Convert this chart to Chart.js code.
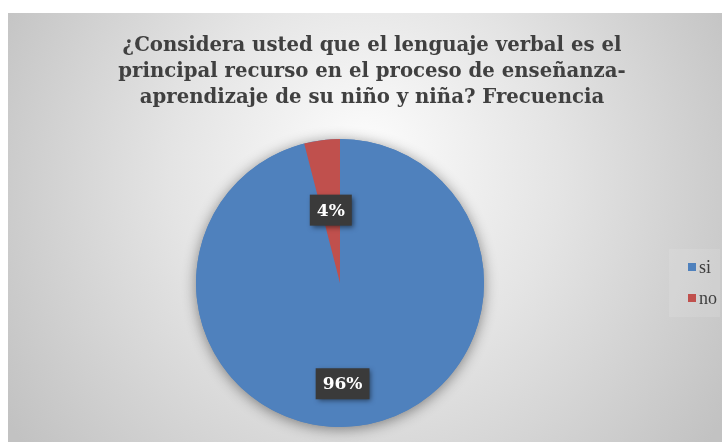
<!DOCTYPE html>
<html>
<head>
<meta charset="utf-8">
<script src="https://cdn.jsdelivr.net/npm/chart.js@4.4.1/dist/chart.umd.min.js"></script>
<style>
  html, body { margin: 0; padding: 0; background: #fff; }
  #wrap { width: 722px; height: 442px; position: relative; }
</style>
</head>
<body>
<div id="wrap"><canvas id="pieChart"></canvas></div>
<script>
const categories = ['si', 'no'];
const frecuencia = [24, 1];
const sliceColors = ['#4F81BD', '#C0504D'];
const titleLines = [
  '¿Considera usted que el lenguaje verbal es el',
  'principal recurso en el proceso de enseñanza-',
  'aprendizaje de su niño y niña? Frecuencia'
];

const serif = '"DejaVu Serif", "Liberation Serif", serif';
const serifNarrow = '"Liberation Serif", "DejaVu Serif", serif';

// background panel + title
const backdrop = {
  id: 'backdrop',
  beforeDraw(chart) {
    const ctx = chart.ctx;
    ctx.save();
    ctx.fillStyle = '#fff';
    ctx.fillRect(0, 0, chart.width, chart.height);
    const g = ctx.createRadialGradient(365, 150, 10, 365, 200, 420);
    g.addColorStop(0, '#fbfbfb');
    g.addColorStop(0.45, '#e4e4e4');
    g.addColorStop(1, '#c2c2c2');
    ctx.fillStyle = g;
    ctx.fillRect(8, 13, chart.width - 8, chart.height - 13);

    // fit the first title line to ~498px like the original
    let size = 22;
    ctx.font = 'bold ' + size + 'px ' + serif;
    size = Math.min(24, size * 498 / ctx.measureText(titleLines[0]).width);
    ctx.font = 'bold ' + size.toFixed(1) + 'px ' + serif;
    ctx.fillStyle = '#404040';
    ctx.textAlign = 'center';
    ctx.textBaseline = 'middle';
    titleLines.forEach((t, i) => ctx.fillText(t, 372, 46 + i * 26));
    ctx.restore();
  },
  beforeDatasetsDraw(chart) {
    // soft shadow under the pie
    const arc = chart.getDatasetMeta(0).data[0];
    if (!arc) return;
    const ctx = chart.ctx;
    ctx.save();
    ctx.shadowColor = 'rgba(0,0,0,0.45)';
    ctx.shadowBlur = 14;
    ctx.shadowOffsetY = 2;
    ctx.fillStyle = sliceColors[0];
    ctx.beginPath();
    ctx.arc(arc.x, arc.y, arc.outerRadius, 0, Math.PI * 2);
    ctx.fill();
    ctx.restore();
  }
};

// percent labels in dark boxes + legend on the right
const labelsAndLegend = {
  id: 'labelsAndLegend',
  afterDatasetsDraw(chart) {
    const ctx = chart.ctx;
    const meta = chart.getDatasetMeta(0);
    const total = frecuencia.reduce((a, b) => a + b, 0);
    const radial = [0.70, 0.51];
    ctx.save();
    ctx.font = 'bold 17px ' + serif;
    ctx.textAlign = 'center';
    ctx.textBaseline = 'middle';
    meta.data.forEach((arc, i) => {
      // big slice: label sits lower, nearly straight below centre
      const mid = i === 0 ? (arc.startAngle + arc.endAngle) / 2 + 0.1 : (arc.startAngle + arc.endAngle) / 2;
      const r = arc.outerRadius * radial[i];
      const x = arc.x + Math.cos(mid) * r;
      const y = arc.y + Math.sin(mid) * r;
      const txt = Math.round(frecuencia[i] / total * 100) + '%';
      const w = ctx.measureText(txt).width + 14;
      const h = 31;
      ctx.save();
      ctx.shadowColor = 'rgba(0,0,0,0.5)';
      ctx.shadowBlur = 5;
      ctx.shadowOffsetX = 2;
      ctx.shadowOffsetY = 2;
      ctx.fillStyle = '#3a3a3a';
      ctx.fillRect(x - w / 2, y - h / 2, w, h);
      ctx.restore();
      ctx.fillStyle = '#ffffff';
      ctx.fillText(txt, x, y + 1);
    });

    // legend
    ctx.fillStyle = 'rgba(240,240,240,0.15)';
    ctx.fillRect(669, 249, 51, 68);
    ctx.font = '18px ' + serifNarrow;
    ctx.textAlign = 'left';
    categories.forEach((c, i) => {
      const y = 267 + i * 31;
      ctx.fillStyle = sliceColors[i];
      ctx.fillRect(688, y - 4, 8, 8);
      ctx.fillStyle = '#404040';
      ctx.fillText(c, 699, y + 1);
    });
    ctx.restore();
  }
};

new Chart(document.getElementById('pieChart').getContext('2d'), {
  type: 'pie',
  data: {
    labels: categories,
    datasets: [{
      data: frecuencia,
      backgroundColor: sliceColors,
      borderWidth: 0,
      hoverOffset: 0
    }]
  },
  options: {
    responsive: true,
    maintainAspectRatio: false,
    animation: false,
    layout: { padding: { top: 139, bottom: 15, left: 196, right: 238 } },
    plugins: {
      legend: { display: false },
      title: { display: false },
      tooltip: { enabled: false }
    }
  },
  plugins: [backdrop, labelsAndLegend]
});
</script>
</body>
</html>
